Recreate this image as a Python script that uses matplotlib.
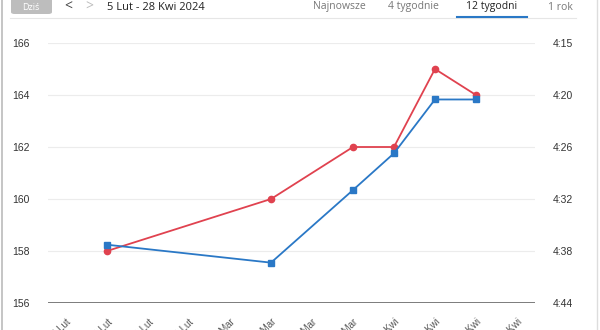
import matplotlib
matplotlib.use("Agg")
from matplotlib import pyplot as plt
from matplotlib.patches import FancyBboxPatch
from matplotlib.lines import Line2D

# data
weeks = ["5 Lut", "12 Lut", "19 Lut", "26 Lut", "4 Mar", "11 Mar",
         "18 Mar", "25 Mar", "1 Kwi", "8 Kwi", "15 Kwi", "22 Kwi"]
idx = [1, 5, 7, 8, 9, 10]
heart_rate = [158, 160, 162, 162, 165, 164]
pace_sec = [277.5, 279.5, 271.4, 267.3, 261.3, 261.3]
left_ticks = [156, 158, 160, 162, 164, 166]
pace_top, pace_bottom = 255, 284
tabs = ["Najnowsze", "4 tygodnie", "12 tygodni", "1 rok"]

RED = "#e0424f"
BLUE = "#2a78c6"
GREY = "#555555"

plt.rcParams["font.family"] = ["Liberation Sans", "DejaVu Sans"]

fig = plt.figure(figsize=(6, 3.3), dpi=100)
ax = fig.add_axes([48 / 600, 27 / 330, 487 / 600, 260 / 330])

ax.plot(idx, heart_rate, color=RED, marker="o", markersize=4.5, linewidth=1.3, zorder=3)
ax.set_xlim(-0.44, 11.44)
ax.set_ylim(156, 166)
ax.set_yticks(left_ticks)
ax.grid(axis="y", color="#ececec", linewidth=0.8)
for s in ax.spines.values():
    s.set_visible(False)
ax.axhline(156, color="#666666", linewidth=1.2, zorder=2)
ax.tick_params(axis="y", length=0, labelsize=7.5, labelcolor="#333333", pad=13)
ax.set_xticks(range(len(weeks)))
ax.set_xticklabels(weeks, rotation=45, ha="right", va="top",
                   rotation_mode="anchor", fontsize=7, color=GREY)
ax.tick_params(axis="x", length=0, pad=10)

ax2 = ax.twinx()
ax2.plot(idx, pace_sec, color=BLUE, marker="s", markersize=4.5, linewidth=1.3, zorder=3)
ax2.set_ylim(pace_bottom, pace_top)
pace_ticks = [pace_top + i * (pace_bottom - pace_top) / 5 for i in range(6)]
ax2.set_yticks(pace_ticks)
ax2.set_yticklabels([f"{int(t) // 60}:{int(t) % 60:02d}" for t in pace_ticks])
ax2.tick_params(axis="y", length=0, labelsize=7.5, labelcolor="#333333", pad=13)
for s in ax2.spines.values():
    s.set_visible(False)

# header
hdr = ["Open Sans", "DejaVu Sans"]
hy = 323 / 330
fig.add_artist(FancyBboxPatch((11 / 600, 316 / 330), 41 / 600, 16 / 330,
                              boxstyle="round,pad=0,rounding_size=0.006",
                              transform=fig.transFigure, facecolor="#bdbdbd",
                              edgecolor="none"))
fig.text(31 / 600, hy, "Dziś", ha="center", va="center", fontsize=6.5,
         color="white", family=hdr)
fig.text(68 / 600, hy, "<", ha="center", va="center", fontsize=10,
         color="#444444", family=hdr)
fig.text(89 / 600, hy, ">", ha="center", va="center", fontsize=10,
         color="#bbbbbb", family=hdr)
fig.text(107 / 600, hy, "5 Lut - 28 Kwi 2024", ha="left", va="center",
         fontsize=8, color="#222222", family=hdr)
tab_x = [339, 413, 492, 560]
for t, x in zip(tabs, tab_x):
    fig.text(x / 600, hy, t, ha="center", va="center", fontsize=7.5,
             color="#222222" if t == "12 tygodni" else "#777777", family=hdr)
fig.add_artist(Line2D([10 / 600, 576 / 600], [312 / 330, 312 / 330],
                      color="#e6e6e6", linewidth=0.8, transform=fig.transFigure))
fig.add_artist(Line2D([457 / 600, 527 / 600], [313 / 330, 313 / 330],
                      color=BLUE, linewidth=1.5, transform=fig.transFigure))
# frame edges
fig.add_artist(Line2D([2 / 600, 2 / 600], [0, 1], color="#bbbbbb",
                      linewidth=1.2, transform=fig.transFigure))
fig.add_artist(Line2D([597 / 600, 597 / 600], [0, 1], color="#dddddd",
                      linewidth=1.0, transform=fig.transFigure))

fig.savefig("out.png", dpi=100)
